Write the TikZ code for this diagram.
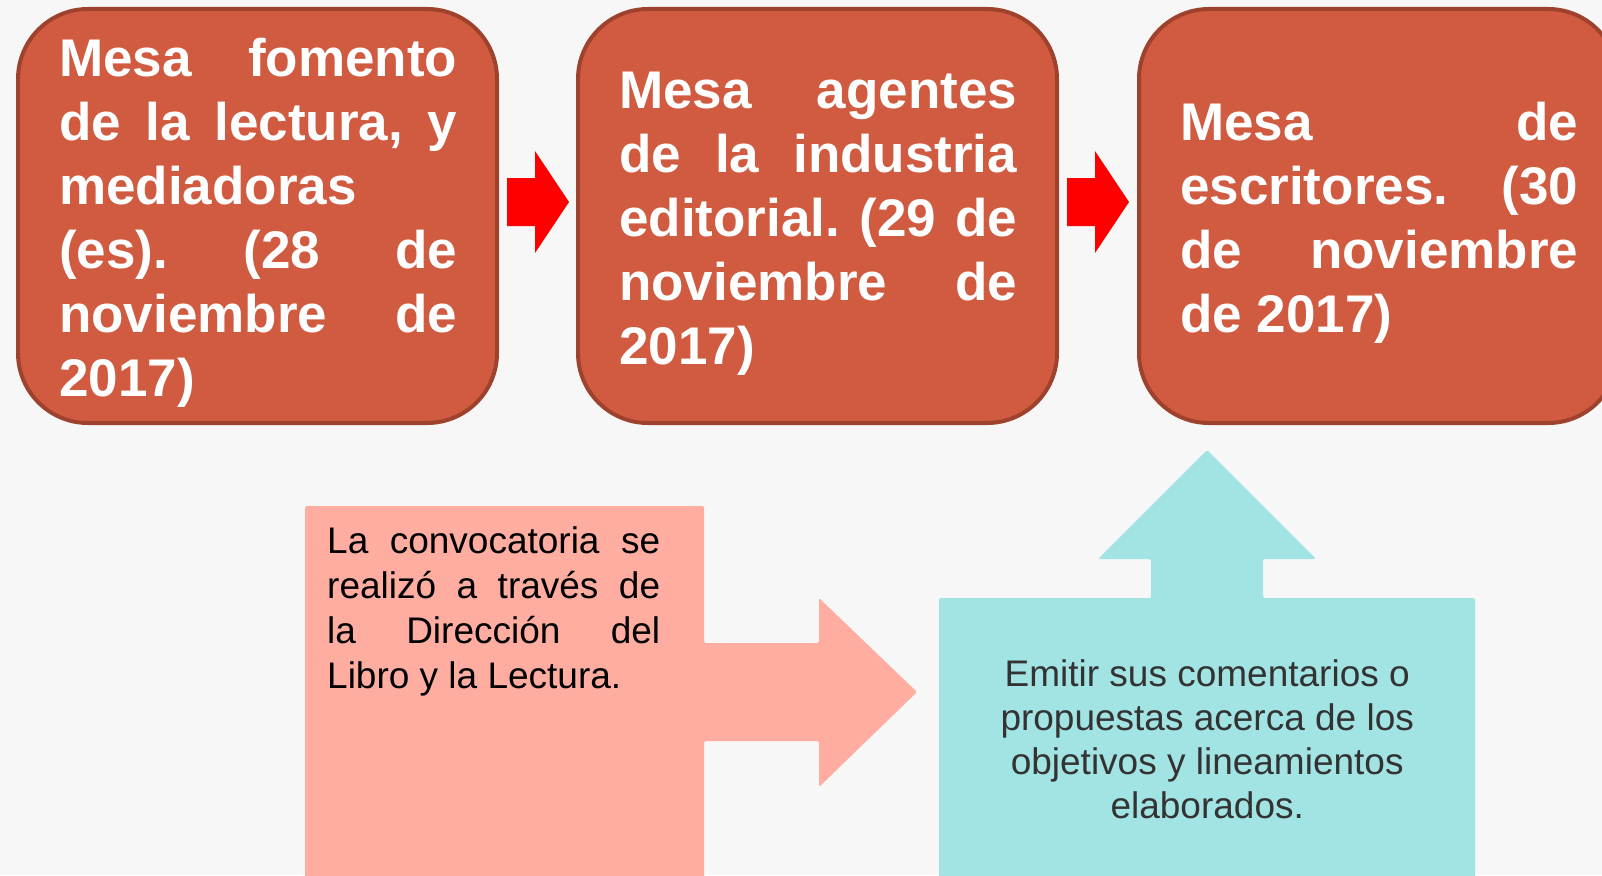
\documentclass[tikz,border=0pt]{standalone}
\usepackage{fontspec}
\setmainfont{Liberation Sans}
\definecolor{bgcol}{RGB}{247,247,247}
\definecolor{boxfill}{RGB}{208,91,64}
\definecolor{boxline}{RGB}{158,66,46}
\definecolor{pinkfill}{RGB}{254,173,160}
\definecolor{tealfill}{RGB}{162,228,227}
\definecolor{darktxt}{RGB}{51,51,51}
\newcommand\jl[1]{\hbox to \hsize{#1}}
\newcommand\parblock[2]{\vtop{\hsize=#1\relax\lineskiplimit=-1000pt\lineskip=0pt #2}}
\tikzset{
  mesa/.style={draw=boxline, line width=4pt, fill=boxfill, rounded corners=70pt,
    minimum width=479pt, minimum height=414pt, inner sep=0pt},
  mesatext/.style={anchor=base west, inner sep=0pt, text=white,
    font=\bfseries\fontsize{53}{64}\selectfont},
  redarrow/.style={fill=red, draw=none},
  bodytext/.style={anchor=base west, inner sep=0pt, font=\fontsize{37}{45}\selectfont},
}
\begin{document}
\begin{tikzpicture}[x=1pt,y=-1pt]
\fill[bgcol] (0,0) rectangle (1602,875);
\useasboundingbox (0,0) rectangle (1602,875);
\clip (0,0) rectangle (1602,875);

% top boxes
\node[mesa] (m1) at (257.5,216) {};
\node[mesa] (m2) at (817.5,216) {};
\node[mesa] (m3) at (1378.5,216) {};

\node[mesatext] (t1) at (59,76) {\parblock{398pt}{%
  \jl{Mesa\hfill fomento}
  \jl{de\hfill la\hfill lectura,\hfill y}
  \jl{mediadoras\hfill}
  \jl{(es).\hfill (28\hfill de}
  \jl{noviembre\hfill de}
  \jl{2017)\hfill}}};
\node[mesatext] (t2) at (619,108) {\parblock{398pt}{%
  \jl{Mesa\hfill agentes}
  \jl{de\hfill la\hfill industria}
  \jl{editorial.\hfill (29\hfill de}
  \jl{noviembre\hfill de}
  \jl{2017)\hfill}}};
\node[mesatext] (t3) at (1180,140) {\parblock{398pt}{%
  \jl{Mesa\hfill de}
  \jl{escritores.\hfill (30}
  \jl{de\hfill noviembre}
  \jl{de 2017)\hfill}}};

% red arrows between boxes
\fill[redarrow] (507,178) -- (535,178) -- (535,151) -- (569,202) -- (535,253) -- (535,226) -- (507,226) -- cycle;
\fill[redarrow] (1067,178) -- (1095,178) -- (1095,151) -- (1129,202) -- (1095,253) -- (1095,226) -- (1067,226) -- cycle;

% pink right-arrow callout
\fill[pinkfill, rounded corners=1.5pt] (305,506) -- (704,506) -- (704,643) -- (819,643) -- (819,598)
  -- (917,692) -- (819,787) -- (819,741) -- (704,741) -- (704,885) -- (305,885) -- cycle;
\node[bodytext, text=black] (p1) at (327,553) {\parblock{333pt}{%
  \jl{La\hfill convocatoria\hfill se}
  \jl{realizó\hfill a\hfill través\hfill de}
  \jl{la\hfill Dirección\hfill del}
  \jl{Libro y la Lectura.\hfill}}};

% teal up-arrow callout
\fill[tealfill, rounded corners=1.5pt] (939,598) -- (1151,598) -- (1151,559) -- (1098,559) -- (1207,450)
  -- (1316,559) -- (1263,559) -- (1263,598) -- (1475,598) -- (1475,885) -- (939,885) -- cycle;
\node[bodytext, text=darktxt, font=\fontsize{37}{44}\selectfont] (q1) at (987,686) {\parblock{440pt}{%
  \jl{\hfill Emitir sus comentarios o\hfill}
  \jl{\hfill propuestas acerca de los\hfill}
  \jl{\hfill objetivos y lineamientos\hfill}
  \jl{\hfill elaborados.\hfill}}};
\end{tikzpicture}
\end{document}
